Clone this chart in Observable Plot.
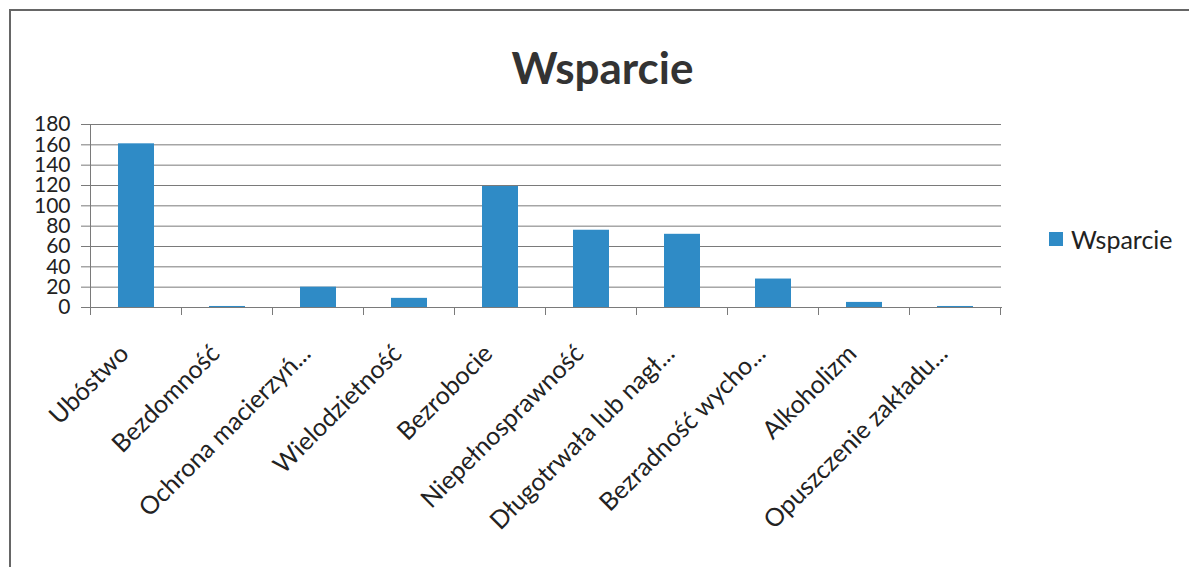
<!DOCTYPE html>
<html><head><meta charset="utf-8">
<script src="https://cdn.jsdelivr.net/npm/d3@7"></script>
<script src="https://cdn.jsdelivr.net/npm/@observablehq/plot@0.6"></script>
<style>
body{margin:0;background:#fff;font-family:Lato, sans-serif;}
#wrap{position:relative;width:1189px;height:567px;overflow:hidden;background:#fff}
#frame{position:absolute;left:9px;top:9px;right:-5px;bottom:-5px;border-top:2px solid #666;border-left:2px solid #666}
#title{position:absolute;left:0;width:1189px;top:39px;text-align:center;font-weight:700;font-size:44px;color:#333;line-height:56px;padding-left:16px;box-sizing:border-box}
#chart{position:absolute;left:0;top:105px}
#legend{position:absolute;left:1049px;top:224px;font-size:25px;color:#222;display:flex;align-items:center;line-height:30px}
#legend .sw{display:inline-block;width:14px;height:14px;background:#2f8bc6;margin-right:8px}
</style></head>
<body>
<div id="wrap">
  <div id="frame"></div>
  <div id="title"></div>
  <div id="chart"></div>
  <div id="legend"></div>
</div>
<script>
const categories = ["Ubóstwo","Bezdomność","Ochrona macierzyń...","Wielodzietność","Bezrobocie","Niepełnosprawność","Długotrwała lub nagł...","Bezradność wycho...","Alkoholizm","Opuszczenie zakładu..."];
const values = [161, 1, 20, 9, 119, 76, 72, 28, 5, 1];
const seriesName = "Wsparcie";
const yTicks = [0,20,40,60,80,100,120,140,160,180];

const data = categories.map((c,i)=>({cat:c, value:values[i]}));
const barColor = "#2f8bc6";
const lineColor = "#7a7a7a";

document.getElementById("title").textContent = seriesName;
document.getElementById("legend").innerHTML = `<span class="sw"></span><span>${seriesName}</span>`;

const plot = Plot.plot({
  width: 1189, height: 462,
  marginLeft: 90, marginRight: 188, marginTop: 19, marginBottom: 260,
  style: {fontFamily: "Lato, sans-serif", color: "#222", background: "transparent"},
  x: {domain: categories, paddingInner: 0.6, paddingOuter: 0.3, axis: null},
  y: {domain: [0, 180], axis: null, label: null},
  marks: [
    Plot.gridY(yTicks, {stroke: lineColor, strokeOpacity: 1, strokeWidth: 1}),
    Plot.axisY(yTicks, {tickSize: 9, tickPadding: 11, fontSize: 21, stroke: lineColor, fill: "#222", label: null, tickFormat: d => String(d)}),
    Plot.frame({anchor: "left", stroke: lineColor}),
    Plot.frame({anchor: "bottom", stroke: lineColor}),
    Plot.barY(data, {x: "cat", y: "value", fill: barColor}),
    Plot.text(data, {x: "cat", frameAnchor: "bottom", text: "cat", rotate: -45, textAnchor: "end", lineAnchor: "middle", dx: -12, dy: 42, fontSize: 25, fill: "#222"})
  ]
});

document.getElementById("chart").appendChild(plot);

// category boundary ticks, positioned via the plot's own x scale
const xs = plot.scale("x");
const ys = plot.scale("y");
const gap = (xs.step - xs.bandwidth) / 2;
const bounds = categories.map(c => xs.apply(c) - gap);
bounds.push(xs.apply(categories[categories.length-1]) + xs.bandwidth + gap);
const y0 = ys.apply(0);
d3.select(plot).append("g")
  .selectAll("line").data(bounds).join("line")
  .attr("x1", d => d).attr("x2", d => d)
  .attr("y1", y0).attr("y2", y0 + 8)
  .attr("stroke", lineColor);
</script>
</body></html>
